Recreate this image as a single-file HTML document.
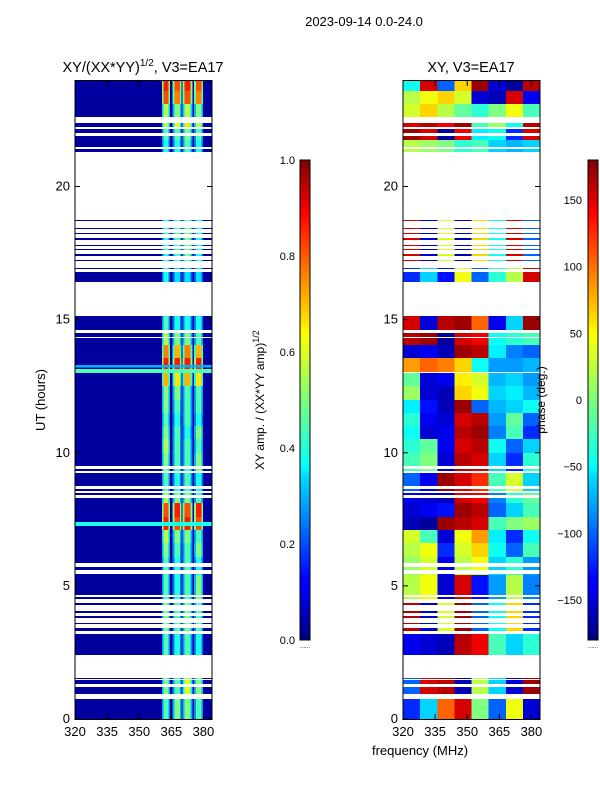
<!DOCTYPE html>
<html><head><meta charset="utf-8"><style>
html,body{margin:0;padding:0;background:#fff;}
svg text{font-family:"Liberation Sans",sans-serif;fill:#000;}
#ampPlot rect,#phasePlot rect{shape-rendering:crispEdges;}
</style></head><body>
<svg id="fig" width="600" height="800" xmlns="http://www.w3.org/2000/svg">
<defs>
<linearGradient id="jet" x1="0" y1="1" x2="0" y2="0">
<stop offset="0" stop-color="#00007f"/><stop offset="0.11" stop-color="#0000ff"/><stop offset="0.125" stop-color="#0000ff"/>
<stop offset="0.34" stop-color="#00dcff"/><stop offset="0.36" stop-color="#0ff"/><stop offset="0.5" stop-color="#7dff7a"/>
<stop offset="0.64" stop-color="#ff0"/><stop offset="0.66" stop-color="#ffe600"/><stop offset="0.89" stop-color="#ff0000"/>
<stop offset="1" stop-color="#7f0000"/></linearGradient>
</defs>
<text x="364" y="26" font-size="13" text-anchor="middle">2023-09-14 0.0-24.0</text>
<text x="143" y="72" font-size="14.5" text-anchor="middle">XY/(XX*YY)<tspan font-size="10" dy="-6">1/2</tspan><tspan dy="6">, V3=EA17</tspan></text>
<text x="471" y="72" font-size="14.5" text-anchor="middle">XY, V3=EA17</text>
<g id="ampPlot"></g>
<g id="phasePlot"></g>
<g id="axes"></g>
<text transform="translate(45,400) rotate(-90)" font-size="13" text-anchor="middle">UT (hours)</text>
<text x="420" y="755" font-size="13" text-anchor="middle">frequency (MHz)</text>
<rect x="300" y="160" width="10" height="480" fill="url(#jet)" stroke="#000" stroke-width="1"/>
<rect x="588" y="160" width="10" height="480" fill="url(#jet)" stroke="#000" stroke-width="1"/>
<text transform="translate(264,400) rotate(-90)" font-size="12" text-anchor="middle">XY amp. / (XX*YY amp)<tspan font-size="9" dy="-5">1/2</tspan></text>
<text transform="translate(545,400) rotate(-90)" font-size="12" text-anchor="middle">phase (deg.)</text>
<text x="305" y="648" font-size="6" text-anchor="middle" fill="#888">......</text>
<text x="593" y="648" font-size="6" text-anchor="middle" fill="#888">......</text>
</svg>
<script>
// ---- data ----
const bands = [[0,0.75],[0.95,1.2],[1.3,1.45],[1.5,1.55],[2.4,3.2],[3.3,3.4],[3.55,3.6],[3.8,3.85],[4.0,4.05],[4.3,4.35],[4.5,4.6],[4.65,5.45],[5.6,5.7],[5.85,8.3],[8.4,8.5],[8.55,8.65],[8.75,9.25],[9.3,9.4],[9.5,13.0],[13.05,14.3],[14.35,14.5],[14.6,15.15],[16.4,16.8],[16.9,16.95],[17.2,17.25],[17.4,17.45],[17.6,17.65],[17.75,17.8],[18.0,18.05],[18.2,18.25],[18.4,18.45],[18.7,18.75],[21.3,21.4],[21.5,21.9],[22.0,22.15],[22.25,22.4],[22.6,24]];
const rowHours = [0.4,1.2,2.8,3.8,5.0,5.75,6.25,6.75,7.25,7.75,8.25,8.8,9.75,10.25,10.75,11.25,11.75,12.25,12.75,13.25,13.75,14.25,14.9,16.6,17.8,21.5,22.0,22.3,22.75,23.25,23.75];
const stripeLo = [360.6,365.6,370.3,375.7];
const stripeHi = [364.4,369.8,375.0,379.9];
const ampStripe = [
[0.45,0.5,0.5,0.45],[0.5,0.45,0.6,0.5],[0.45,0.4,0.45,0.4],[0.5,0.45,0.5,0.45],[0.45,0.4,0.45,0.5],
[0.45,0.4,0.45,0.4],[0.5,0.45,0.45,0.5],[0.55,0.5,0.5,0.45],[0.85,0.8,0.85,0.8],[0.8,0.85,0.8,0.85],
[0.55,0.5,0.5,0.45],[0.45,0.4,0.45,0.4],[0.5,0.45,0.45,0.5],[0.55,0.45,0.45,0.45],[0.5,0.45,0.4,0.5],
[0.45,0.4,0.45,0.4],[0.5,0.45,0.45,0.45],[0.5,0.5,0.45,0.45],[0.7,0.65,0.7,0.65],[0.85,0.85,0.85,0.85],
[0.75,0.7,0.75,0.7],[0.55,0.5,0.5,0.45],[0.45,0.4,0.4,0.4],[0.4,0.35,0.35,0.35],[0.4,0.45,0.5,0.4],
[0.4,0.4,0.45,0.4],[0.45,0.45,0.5,0.45],[0.55,0.6,0.65,0.55],[0.55,0.5,0.55,0.5],[0.8,0.75,0.8,0.75],[0.85,0.8,0.85,0.8]];
const ampBackground = 0.03;
const ampFullRows = [[7.25,7.4,0.4],[13.0,13.15,0.45],[13.2,13.3,0.3]];
const phaseCols = [320,328,336,344,352,360,368,376,384];
const phaseVals = [
[-120,-60,100,150,0,-100,40,-150],[-100,150,160,-160,20,-60,-150,170],[-140,-150,-160,160,140,-20,-60,-30],
[160,-150,30,170,-100,-40,60,-120],[20,40,-150,150,-130,-80,20,-90],[10,30,-140,20,40,-60,-30,-80],
[20,40,-120,30,60,-40,-100,-20],[30,-20,-150,40,80,-50,-120,-40],[-160,-170,170,160,150,-20,0,10],
[-150,-140,-130,170,160,-100,-60,-20],[-140,-150,-160,150,140,-90,-30,-10],[-100,-140,170,150,120,-20,30,-60],
[-20,0,-150,160,150,-60,-120,-30],[-30,-10,-140,150,160,-40,-100,-60],[-40,-150,-140,160,170,-90,-20,-120],
[-30,-140,-150,150,160,-80,-10,-100],[-50,-130,-160,170,-100,-70,-60,-40],[10,-150,-160,60,40,-60,-50,-70],
[-10,-150,-140,50,30,-70,-60,-80],[80,100,90,60,-40,-80,-80,-70],[-150,-140,-160,170,160,-50,-90,-100],
[160,170,-170,150,140,-40,-30,-20],[150,-150,160,170,100,-140,-60,170],[-120,-60,-130,40,-100,-30,20,150],
[150,-150,30,-160,60,-40,150,-100],[20,10,0,-30,-20,-60,-70,-60],[170,150,-170,140,-50,-40,-120,150],
[150,160,140,170,-20,10,-40,160],[30,60,20,-10,-30,0,40,-20],[20,40,60,30,-150,-160,150,-140],[-40,150,-100,60,170,-150,-170,160]];
const yTicks = [0,5,10,15,20];
const xTicks = [320,335,350,365,380];
const ampTicks = [0.0,0.2,0.4,0.6,0.8,1.0];
const phaseTicks = [-150,-100,-50,0,50,100,150];

// ---- scales ----
const yS = h => 719 - h*(639/24);
const xA = f => 75 + (f-320)*(137/64);
const xP = f => 403 + (f-320)*(137/64);
const NS = 'http://www.w3.org/2000/svg';
function jet(v){v=Math.max(0,Math.min(1,v));
 const c=x=>Math.round(255*Math.max(0,Math.min(1,1.5-Math.abs(4*v-x))));
 return `rgb(${c(3)},${c(2)},${c(1)})`;}
function mk(tag,attrs,parent){const e=document.createElementNS(NS,tag);for(const k in attrs)e.setAttribute(k,attrs[k]);parent.appendChild(e);return e;}
function nearestRow(h){let b=0;for(let i=0;i<rowHours.length;i++)if(Math.abs(rowHours[i]-h)<Math.abs(rowHours[b]-h))b=i;return b;}
const ampG=document.getElementById('ampPlot'), phG=document.getElementById('phasePlot');
bands.forEach(([a,b])=>{
 const step=0.25;
 for(let h=a;h<b-1e-6;h+=step){
  const h2=Math.min(b,h+step), r=nearestRow((h+h2)/2);
  const y=Math.round(yS(h2)), ht=Math.max(1,Math.round(yS(h))-y);
  let e=mk('rect',{x:xA(320),y:y,width:xA(384)-xA(320),height:ht,fill:jet(ampBackground)},ampG);
  
  
  for(let s=0;s<4;s++){
   const edge=mk('rect',{x:xA(stripeLo[s]),y:y,width:xA(stripeHi[s])-xA(stripeLo[s]),height:ht,fill:jet(ampStripe[r][s]*0.6)},ampG);
   
   
   const w=stripeHi[s]-stripeLo[s];
   const c=mk('rect',{x:xA(stripeLo[s]+w*0.2),y:y,width:xA(stripeLo[s]+w*0.8)-xA(stripeLo[s]+w*0.2),height:ht,fill:jet(ampStripe[r][s])},ampG);
   
   
  }
  for(let c=0;c<8;c++){
   const p=mk('rect',{x:xP(phaseCols[c]),y:y,width:xP(phaseCols[c+1])-xP(phaseCols[c])+0.5,height:ht,fill:jet((phaseVals[r][c]+180)/360)},phG);
   
   
  }
 }
});
ampFullRows.forEach(([a,b,v])=>{
 const e=mk('rect',{x:xA(320),y:yS(b),width:xA(384)-xA(320),height:yS(a)-yS(b),fill:jet(v)},ampG);
 
 
});
// axes
const ax=document.getElementById('axes');
[[75,'amp'],[403,'phase']].forEach(([x0,nm])=>{
 const fr=mk('rect',{x:x0,y:80.5,width:137,height:639,fill:'none',stroke:'#000','stroke-width':1},ax);
 
 
 const xs = nm==='amp'?xA:xP;
 yTicks.forEach(t=>{
  mk('line',{x1:x0,x2:x0+5,y1:yS(t),y2:yS(t),stroke:'#000'},ax);
  mk('line',{x1:x0+137,x2:x0+132,y1:yS(t),y2:yS(t),stroke:'#000'},ax);
  const l=mk('text',{x:x0-5,y:yS(t)+4,'font-size':13,'text-anchor':'end'},ax);l.textContent=t;
  
  
 });
 xTicks.forEach(t=>{
  mk('line',{x1:xs(t),x2:xs(t),y1:719,y2:714,stroke:'#000'},ax);
  mk('line',{x1:xs(t),x2:xs(t),y1:81,y2:86,stroke:'#000'},ax);
  const l=mk('text',{x:xs(t),y:736,'font-size':13,'text-anchor':'middle'},ax);l.textContent=t;
  
  
 });
});
ampTicks.forEach(t=>{const y=640-t*480;
 mk('line',{x1:300,x2:304,y1:y,y2:y,stroke:'#000'},ax);
 const l=mk('text',{x:295,y:y+4,'font-size':11,'text-anchor':'end'},ax);l.textContent=t.toFixed(1);
 
 });
phaseTicks.forEach(t=>{const y=400-t*(480/360);
 mk('line',{x1:588,x2:592,y1:y,y2:y,stroke:'#000'},ax);
 const l=mk('text',{x:582,y:y+4,'font-size':11,'text-anchor':'end'},ax);l.textContent=t===0?'0':(t<0?'\u2212'+(-t):t);
 
 });
</script>
</body></html>
